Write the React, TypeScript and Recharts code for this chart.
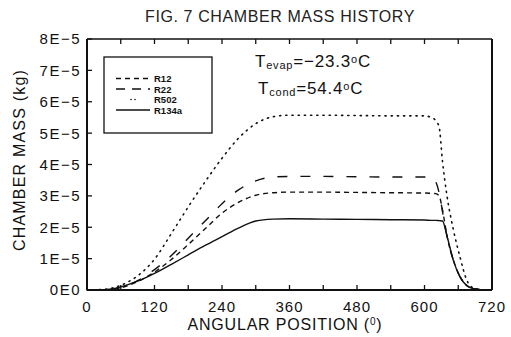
import { LineChart, Line, XAxis, YAxis } from "recharts";

// angular position (deg) and chamber mass in units of 1E-5 kg
const angle = [0, 30, 60, 90, 120, 150, 180, 210, 240, 270, 300, 330, 360, 420, 480, 540, 600, 612, 620, 626, 632, 640, 651, 663, 675, 687, 700, 720];
const r12 = [0, 0, 0.07, 0.27, 0.57, 0.97, 1.45, 1.95, 2.45, 2.8, 3.02, 3.1, 3.12, 3.12, 3.11, 3.1, 3.09, 3.08, 3.07, 3.0, 2.55, 1.72, 0.97, 0.43, 0.15, 0.04, 0.01, 0];
const r22 = [0, 0, 0.08, 0.3, 0.65, 1.1, 1.65, 2.2, 2.75, 3.2, 3.48, 3.6, 3.62, 3.62, 3.61, 3.6, 3.6, 3.59, 3.45, 3.1, 2.5, 1.72, 0.97, 0.43, 0.15, 0.04, 0.01, 0];
const r502 = [0, 0.02, 0.15, 0.45, 0.98, 1.8, 2.65, 3.45, 4.2, 4.85, 5.3, 5.52, 5.57, 5.57, 5.56, 5.55, 5.55, 5.5, 5.4, 5.2, 4.1, 3.0, 1.95, 1.06, 0.32, 0.06, 0.01, 0];
const r134a = [0, 0.01, 0.1, 0.28, 0.53, 0.82, 1.12, 1.42, 1.7, 1.98, 2.2, 2.26, 2.27, 2.26, 2.25, 2.24, 2.23, 2.22, 2.22, 2.21, 2.2, 1.72, 0.96, 0.42, 0.14, 0.04, 0.01, 0];

const xTicks = [0, 60, 120, 180, 240, 300, 360, 420, 480, 540, 600, 660, 720];
const yTicks = [0, 0.5, 1, 1.5, 2, 2.5, 3, 3.5, 4, 4.5, 5, 5.5, 6, 6.5, 7, 7.5, 8];

const data = angle.map((a, i) => ({
  angle: a,
  r12: r12[i],
  r22: r22[i],
  r502: r502[i],
  r134a: r134a[i],
}));

const FONT = "'Liberation Sans', Arial, sans-serif";
const INK = "#111";

function BottomTick({ x, y, payload }: any) {
  const v = payload.value;
  return (
    <g>
      <line x1={x} y1={y} x2={x} y2={y - 5} stroke={INK} strokeWidth={1.3} />
      {v % 120 === 0 && (
        <text x={x} y={y + 22} textAnchor="middle" fontSize={15} letterSpacing={1} fontFamily={FONT} fill={INK}>
          {v}
        </text>
      )}
    </g>
  );
}

function TopTick({ x, y }: any) {
  return <line x1={x} y1={y} x2={x} y2={y + 5} stroke={INK} strokeWidth={1.3} />;
}

function LeftTick({ x, y, payload }: any) {
  const v = payload.value;
  const major = v % 1 === 0;
  return (
    <g>
      <line x1={x} y1={y} x2={x + (major ? 5 : 3)} y2={y} stroke={INK} strokeWidth={1.3} />
      {major && (
        <text x={x - 6} y={y} dy="0.36em" textAnchor="end" fontSize={15} letterSpacing={1.5} fontFamily={FONT} fill={INK}>
          {v === 0 ? "0E0" : `${v}E\u22125`}
        </text>
      )}
    </g>
  );
}

function RightTick({ x, y, payload }: any) {
  const major = payload.value % 1 === 0;
  return <line x1={x} y1={y} x2={x - (major ? 5 : 3)} y2={y} stroke={INK} strokeWidth={1.3} />;
}

const series = [
  { key: "r12", name: "R12", dash: "5 4" },
  { key: "r22", name: "R22", dash: "10 13" },
  { key: "r502", name: "R502", dash: "1.2 5" },
  { key: "r134a", name: "R134a", dash: undefined },
];

export default function App() {
  return (
    <div style={{ position: "absolute", left: 0, top: 0, width: 511, height: 337, background: "#fff" }}>
      <LineChart width={511} height={337} data={data} margin={{ top: 0, right: 0, bottom: 0, left: 0 }}>
        <XAxis
          xAxisId="b"
          dataKey="angle"
          type="number"
          domain={[0, 720]}
          ticks={xTicks}
          height={47}
          tickSize={0}
          tickMargin={0}
          tick={<BottomTick />}
          axisLine={{ stroke: INK, strokeWidth: 2 }}
          tickLine={false}
        />
        <XAxis
          xAxisId="t"
          orientation="top"
          dataKey="angle"
          type="number"
          domain={[0, 720]}
          ticks={xTicks}
          height={39}
          tickSize={0}
          tickMargin={0}
          tick={<TopTick />}
          axisLine={{ stroke: INK, strokeWidth: 1.5 }}
          tickLine={false}
        />
        <YAxis
          yAxisId="l"
          type="number"
          domain={[0, 8]}
          ticks={yTicks}
          width={87}
          tickSize={0}
          tickMargin={0}
          tick={<LeftTick />}
          axisLine={{ stroke: INK, strokeWidth: 2 }}
          tickLine={false}
        />
        <YAxis
          yAxisId="r"
          orientation="right"
          type="number"
          domain={[0, 8]}
          ticks={yTicks}
          width={19}
          tickSize={0}
          tickMargin={0}
          tick={<RightTick />}
          axisLine={{ stroke: INK, strokeWidth: 2 }}
          tickLine={false}
        />
        {series.map((s) => (
          <Line
            key={s.key}
            xAxisId="b"
            yAxisId="l"
            type="monotone"
            dataKey={s.key}
            stroke={INK}
            strokeWidth={s.key === "r502" ? 1.6 : 1.4}
            strokeDasharray={s.dash}
            strokeLinecap={s.key === "r502" ? "round" : "butt"}
            dot={false}
            isAnimationActive={false}
          />
        ))}
      </LineChart>
      <svg
        width={511}
        height={337}
        style={{ position: "absolute", left: 0, top: 0, pointerEvents: "none" }}
        fontFamily={FONT}
        fill={INK}
      >
        <text x={280} y={22} textAnchor="middle" fontSize={16} letterSpacing={0.6} fill="#222">
          FIG. 7 CHAMBER MASS HISTORY
        </text>
        <text x={285} y={330} textAnchor="middle" fontSize={16} letterSpacing={0.8}>
          ANGULAR POSITION (<tspan dy={-5} fontSize={10}>0</tspan>
          <tspan dy={5}>)</tspan>
        </text>
        <text x={25} y={160} textAnchor="middle" fontSize={16} letterSpacing={1.2} transform="rotate(-90 25 160)">
          CHAMBER MASS (kg)
        </text>

        <rect x={104} y={57} width={108} height={76} fill="none" stroke={INK} strokeWidth={1.3} />
        {series.map((s, i) => (
          <g key={s.key}>
            {s.key === "r502" ? (
              <>
                <circle cx={131} cy={78.5 + i * 10.5} r={0.8} fill={INK} />
                <circle cx={135} cy={78.5 + i * 10.5} r={0.8} fill={INK} />
              </>
            ) : (
              <line
                x1={116}
                x2={150}
                y1={78.5 + i * 10.5}
                y2={78.5 + i * 10.5}
                stroke={INK}
                strokeWidth={1.3}
                strokeDasharray={s.key === "r22" ? "9 7" : s.dash}
              />
            )}
            <text x={154} y={82 + i * 10.5} fontSize={9.5} fontWeight="bold">
              {s.name}
            </text>
          </g>
        ))}

        <text x={255} y={67} fontSize={17} letterSpacing={0.8}>
          T<tspan fontSize={11} dy={2}>evap</tspan>
          <tspan dy={-2}>=−23.3</tspan>
          <tspan fontSize={11} dy={-4}>o</tspan>
          <tspan dy={4}>C</tspan>
        </text>
        <text x={258} y={94} fontSize={17} letterSpacing={0.8}>
          T<tspan fontSize={11} dy={2}>cond</tspan>
          <tspan dy={-2}>=54.4</tspan>
          <tspan fontSize={11} dy={-4}>o</tspan>
          <tspan dy={4}>C</tspan>
        </text>
      </svg>
    </div>
  );
}
